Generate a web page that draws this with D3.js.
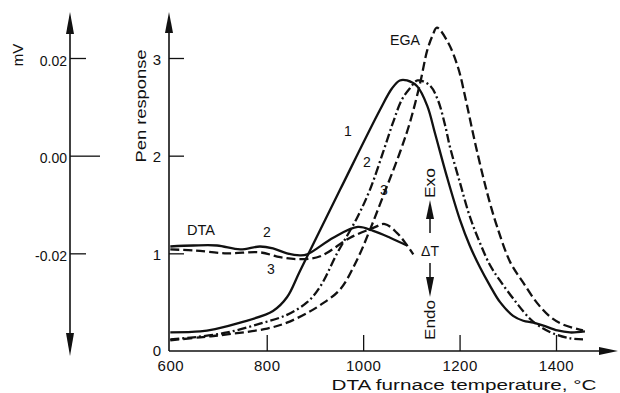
<!DOCTYPE html>
<html><head><meta charset="utf-8">
<script src="https://cdn.jsdelivr.net/npm/d3@7"></script>
<style>
html,body{margin:0;padding:0;background:#fff;}
svg{display:block;font-family:"Liberation Sans",Arial,sans-serif;}
</style></head><body>
<svg id="c" width="620" height="393"></svg>
<script>
// ---- data ----
const tempTicks = [600, 800, 1000, 1200, 1400];
const penTicks = [0, 1, 2, 3];
const mvTicks = [-0.02, 0.00, 0.02];

// EGA curves (pen response vs DTA furnace temperature)
const ega1T = [600,662,693,745,813,842,869,952,1035,1060,1076,1091,1112,1133,1149,1174,1201,1221,1242,1263,1284,1311,1332,1353,1374,1403,1429,1460];
const ega1V = [0.19,0.20,0.225,0.29,0.41,0.55,0.82,1.65,2.47,2.69,2.77,2.77,2.71,2.51,2.23,1.78,1.34,1.08,0.86,0.67,0.50,0.36,0.31,0.29,0.26,0.21,0.19,0.20];
const ega2T = [600,648,718,786,842,884,911,946,987,1014,1041,1062,1080,1097,1113,1138,1155,1170,1180,1201,1221,1242,1263,1284,1317,1346,1367,1394,1429,1456];
const ega2V = [0.12,0.14,0.19,0.28,0.37,0.50,0.66,1.00,1.36,1.65,2.03,2.34,2.57,2.69,2.77,2.72,2.57,2.31,2.09,1.72,1.38,1.11,0.88,0.72,0.50,0.33,0.25,0.18,0.13,0.12];
const ega3T = [600,662,718,801,842,884,911,952,987,1014,1041,1076,1097,1118,1133,1144,1153,1176,1197,1213,1230,1247,1261,1278,1305,1332,1361,1388,1415,1456];
const ega3V = [0.11,0.14,0.17,0.23,0.29,0.39,0.47,0.63,0.93,1.24,1.58,2.03,2.34,2.74,3.08,3.23,3.31,3.16,2.90,2.57,2.18,1.82,1.55,1.27,0.91,0.70,0.49,0.35,0.27,0.21];
// DTA curves (drawn on the same frame)
const dta2T = [600,648,697,745,786,813,842,869,884,938,989,1021,1056,1091];
const dta2V = [1.07,1.08,1.08,1.04,1.07,1.05,1.00,0.98,0.99,1.16,1.27,1.23,1.16,1.08];
const dta3T = [600,648,718,786,828,869,911,973,1021,1045,1070,1087,1104];
const dta3V = [1.04,1.03,1.00,1.01,0.96,0.94,0.97,1.16,1.26,1.30,1.21,1.11,0.99];

// ---- drawing ----
const ink = '#111';
const svg = d3.select('#c');
svg.append('rect').attr('width',620).attr('height',393).attr('fill','#fff');

const x = d3.scaleLinear().domain([600, 1400]).range([170.3, 556]);
const y = d3.scaleLinear().domain([0, 3]).range([351, 58]);
const mv = d3.scaleLinear().domain([-0.04, 0.02]).range([351, 58]);

const axX = 169, axY = 351;

function txt(g, s, px, py, opts = {}) {
  const t = g.append('text').attr('x', px).attr('y', py)
    .attr('font-size', opts.fs || 14).attr('fill', ink)
    .attr('text-anchor', opts.anchor || 'middle')
    .attr('dominant-baseline', 'central').text(s);
  if (opts.len) t.attr('textLength', opts.len).attr('lengthAdjust', 'spacingAndGlyphs');
  if (opts.rot) t.attr('transform', `rotate(${opts.rot},${px},${py})`);
  return t;
}

// main y axis
const gy = svg.append('g').attr('transform', `translate(${axX},0)`)
  .call(d3.axisLeft(y).tickValues(penTicks).tickSizeInner(-15).tickSizeOuter(0).tickPadding(8).tickFormat(d3.format('d')));
gy.select('.domain').remove();
gy.selectAll('.tick').filter(d => d === 0).select('line').remove();
gy.selectAll('line').attr('stroke', ink).attr('stroke-width', 1.3);
gy.selectAll('text').attr('font-size', 15).attr('fill', ink).attr('font-family', '"Liberation Sans",Arial,sans-serif')
  .attr('dy', d => d === 0 ? '0.3em' : '0.42em');

// x axis
const gx = svg.append('g').attr('transform', `translate(0,${axY})`)
  .call(d3.axisBottom(x).tickValues(tempTicks).tickSizeInner(-16).tickSizeOuter(0).tickPadding(9).tickFormat(d3.format('d')));
gx.select('.domain').remove();
gx.selectAll('.tick').filter(d => d === 600).select('line').remove();
gx.selectAll('line').attr('stroke', ink).attr('stroke-width', 1.3);
gx.selectAll('text').attr('font-size', 15).attr('fill', ink).attr('font-family', '"Liberation Sans",Arial,sans-serif')
  .attr('letter-spacing', '0.5px');

// axis lines with arrows
svg.append('line').attr('x1', axX).attr('y1', axY).attr('x2', axX).attr('y2', 28).attr('stroke', ink).attr('stroke-width', 1.6);
svg.append('path').attr('d', `M${axX},12 L${axX-4},33 L${axX+4},33 Z`).attr('fill', ink);
svg.append('line').attr('x1', axX).attr('y1', axY).attr('x2', 602).attr('y2', axY).attr('stroke', ink).attr('stroke-width', 1.6);
svg.append('path').attr('d', `M618,${axY} L599,${axY-4} L599,${axY+4} Z`).attr('fill', ink);

// left mV axis
const mvX = 70;
const gm = svg.append('g').attr('transform', `translate(${mvX},0)`)
  .call(d3.axisLeft(mv).tickValues(mvTicks).tickSizeInner(-16).tickSizeOuter(0).tickPadding(3).tickFormat(d => d.toFixed(2)));
gm.select('.domain').remove();
gm.selectAll('line').attr('stroke', ink).attr('stroke-width', 1.3).attr('x2', d => d === 0 ? 30 : 16);
gm.selectAll('text').attr('font-size', 14).attr('fill', ink).attr('font-family', '"Liberation Sans",Arial,sans-serif')
  .attr('dy', '0.5em');
svg.append('line').attr('x1', mvX).attr('y1', 30).attr('x2', mvX).attr('y2', 338).attr('stroke', ink).attr('stroke-width', 1.6);
svg.append('path').attr('d', `M${mvX},12 L${mvX-4},34 L${mvX+4},34 Z`).attr('fill', ink);
svg.append('path').attr('d', `M${mvX},356 L${mvX-4},333 L${mvX+4},333 Z`).attr('fill', ink);

// titles
txt(svg, 'mV', 17, 55, {rot: -90, fs: 15});
txt(svg, 'Pen response', 141, 106, {rot: -90, fs: 14, len: 113});
txt(svg, 'DTA furnace temperature, °C', 464, 385, {fs: 14, len: 265});

// curves
const line = d3.line().x(d => x(d[0])).y(d => y(d[1])).curve(d3.curveCatmullRom.alpha(0.5));
const zip = (a, b) => a.map((t, i) => [t, b[i]]);
const series = [
  {T: ega1T, V: ega1V, dash: null},
  {T: ega2T, V: ega2V, dash: '9,3,2,3'},
  {T: ega3T, V: ega3V, dash: '9,4'},
  {T: dta2T, V: dta2V, dash: null},
  {T: dta3T, V: dta3V, dash: '9,4'}
];
series.forEach(s => {
  svg.append('path').attr('d', line(zip(s.T, s.V)))
    .attr('fill', 'none').attr('stroke', ink).attr('stroke-width', 2.3)
    .attr('stroke-dasharray', s.dash).attr('stroke-linejoin', 'round');
});

// curve labels
txt(svg, 'EGA', 405, 40, {fs: 14, len: 30});
txt(svg, '1', 348, 131, {fs: 14});
txt(svg, '2', 367, 162, {fs: 14});
txt(svg, '3', 384, 190, {fs: 14});
txt(svg, 'DTA', 201, 230, {fs: 14, len: 28});
txt(svg, '2', 267, 232, {fs: 14});
txt(svg, '3', 271, 269, {fs: 14});

// Exo / Endo indicator
const ax2 = 430;
txt(svg, 'Exo', ax2, 183, {rot: -90, fs: 14, len: 30});
svg.append('path').attr('d', `M${ax2},200 L${ax2-4},219 L${ax2+4},219 Z`).attr('fill', ink);
svg.append('line').attr('x1', ax2).attr('y1', 218).attr('x2', ax2).attr('y2', 233).attr('stroke', ink).attr('stroke-width', 1.5);
txt(svg, 'ΔT', ax2, 251, {fs: 14});
svg.append('line').attr('x1', ax2).attr('y1', 263).attr('x2', ax2).attr('y2', 278).attr('stroke', ink).attr('stroke-width', 1.5);
svg.append('path').attr('d', `M${ax2},297 L${ax2-4},277 L${ax2+4},277 Z`).attr('fill', ink);
txt(svg, 'Endo', ax2, 320, {rot: -90, fs: 14, len: 40});
</script>
</body></html>
